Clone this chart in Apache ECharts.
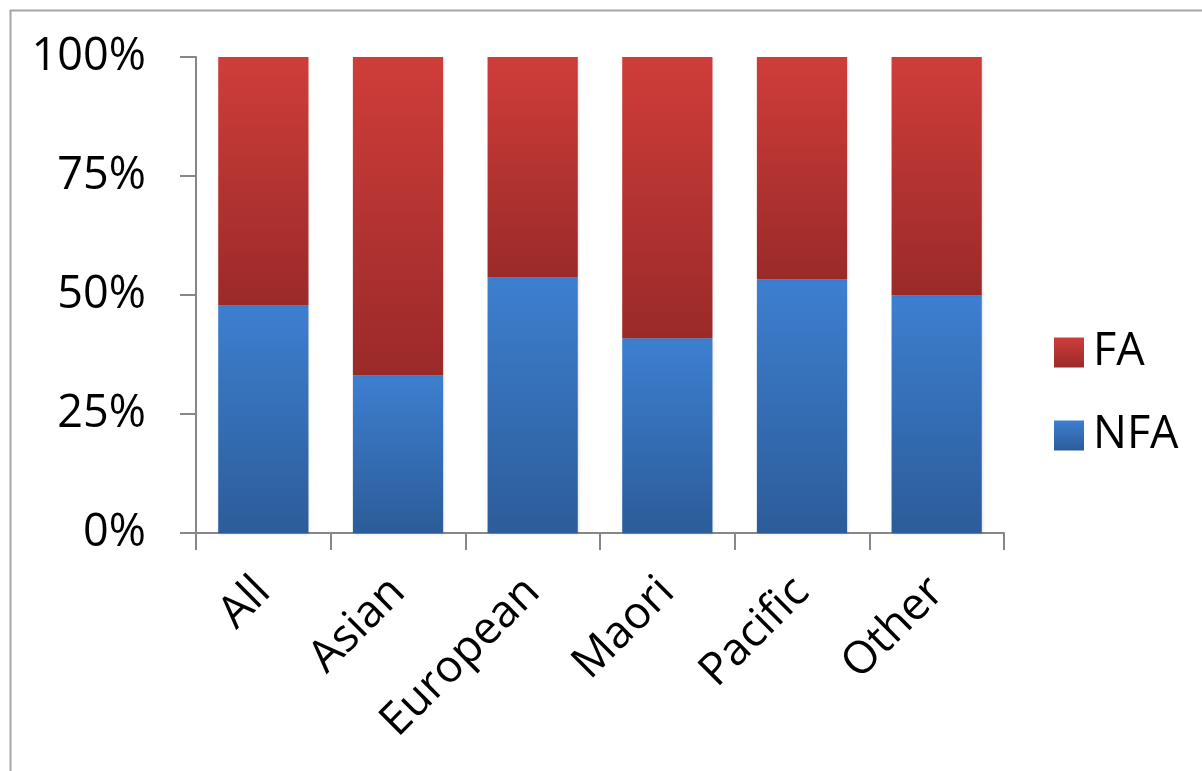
<!DOCTYPE html>
<html>
<head>
<meta charset="utf-8">
<script src="https://cdn.jsdelivr.net/npm/echarts@6/dist/echarts.min.js"></script>
<style>
html,body{margin:0;padding:0;background:#fff;}
#chart{width:1202px;height:771px;}
</style>
</head>
<body>
<div id="chart"></div>
<script>
const categories = ['All', 'Asian', 'European', 'Maori', 'Pacific', 'Other'];
const nfaValues = [47.8, 33.1, 53.7, 40.9, 53.3, 49.9];
const faValues = [52.2, 66.9, 46.3, 59.1, 46.7, 50.1];
const yTicks = [0, 25, 50, 75, 100];

const FONT = '"Open Sans", "Liberation Sans", sans-serif';
const blueGrad = new echarts.graphic.LinearGradient(0, 0, 0, 1, [
  {offset: 0, color: '#3d7fd0'},
  {offset: 1, color: '#2c5c99'}
]);
const redGrad = new echarts.graphic.LinearGradient(0, 0, 0, 1, [
  {offset: 0, color: '#cf3d3a'},
  {offset: 1, color: '#9a2a29'}
]);

const chart = echarts.init(document.getElementById('chart'), null, {renderer: 'canvas'});
chart.setOption({
  animation: false,
  backgroundColor: '#ffffff',
  graphic: [{
    type: 'rect',
    shape: {x: 10.5, y: 10.5, width: 1250, height: 800},
    style: {fill: 'none', stroke: '#a6a6a6', lineWidth: 2},
    silent: true
  }],
  grid: {left: 196, right: 198, top: 57, bottom: 238, containLabel: false},
  legend: {
    orient: 'vertical',
    left: 1054,
    top: 330,
    padding: 0,
    itemWidth: 30,
    itemHeight: 30,
    itemGap: 38,
    icon: 'rect',
    data: ['FA', 'NFA'],
    textStyle: {fontFamily: FONT, fontSize: 45, color: '#000', padding: [0, 0, 0, 4]}
  },
  xAxis: {
    type: 'category',
    data: categories,
    axisLine: {lineStyle: {color: '#878787', width: 2}},
    axisTick: {show: true, length: 17, lineStyle: {color: '#878787', width: 2}},
    axisLabel: {rotate: 45, margin: 52, fontFamily: FONT, fontSize: 45, color: '#000', interval: 0}
  },
  yAxis: {
    type: 'value',
    min: 0,
    max: 100,
    interval: 25,
    axisLine: {show: true, lineStyle: {color: '#878787', width: 2}},
    axisTick: {show: true, length: 16, lineStyle: {color: '#878787', width: 2}},
    splitLine: {show: false},
    axisLabel: {
      margin: 50,
      fontFamily: FONT,
      fontSize: 45,
      color: '#000',
      formatter: function (v) { return yTicks.indexOf(v) >= 0 ? v + '%' : ''; }
    }
  },
  series: [
    {
      name: 'NFA',
      type: 'bar',
      stack: 'total',
      barWidth: '67%',
      data: nfaValues,
      itemStyle: {color: blueGrad, shadowColor: 'rgba(0,0,0,0.15)', shadowBlur: 3, shadowOffsetX: 1, shadowOffsetY: 1}
    },
    {
      name: 'FA',
      type: 'bar',
      stack: 'total',
      barWidth: '67%',
      data: faValues,
      itemStyle: {color: redGrad, shadowColor: 'rgba(0,0,0,0.15)', shadowBlur: 3, shadowOffsetX: 1, shadowOffsetY: 1}
    }
  ]
});
</script>
</body>
</html>
